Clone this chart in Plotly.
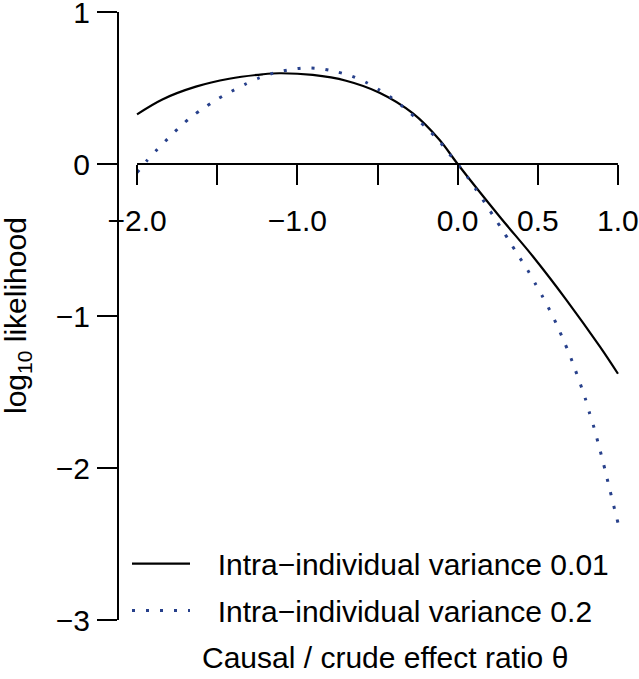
import plotly.graph_objects as go

# ---- data ----
theta_v001 = [-2.0, -1.842, -1.633, -1.425, -1.217, -1.1125, -0.904, -0.696, -0.4875,
              -0.279, -0.1125, 0.0, 0.2625, 0.471, 0.679, 0.8875, 1.0]
loglik_v001 = [0.327, 0.425, 0.509, 0.561, 0.590, 0.597, 0.586, 0.548, 0.469,
               0.333, 0.158, 0.0, -0.347, -0.610, -0.895, -1.202, -1.38]

theta_v02 = [-2.0, -1.939, -1.873, -1.804, -1.736, -1.663, -1.581, -1.500, -1.414,
             -1.327, -1.238, -1.146, -1.05, -0.952, -0.854, -0.756, -0.663, -0.573,
             -0.488, -0.406, -0.329, -0.256, -0.186, -0.117, -0.056, 0.0, 0.064,
             0.119, 0.173, 0.227, 0.279, 0.331, 0.383, 0.436, 0.483, 0.531, 0.577,
             0.619, 0.658, 0.696, 0.731, 0.764, 0.796, 0.823, 0.852, 0.877, 0.902,
             0.925, 0.948, 0.971, 1.0]
loglik_v02 = [-0.057, 0.022, 0.097, 0.171, 0.241, 0.309, 0.370, 0.426, 0.476,
              0.524, 0.566, 0.599, 0.620, 0.632, 0.627, 0.607, 0.579, 0.538,
              0.487, 0.430, 0.366, 0.298, 0.228, 0.154, 0.072, 0.0, -0.09,
              -0.175, -0.261, -0.349, -0.434, -0.522, -0.610, -0.697, -0.785, -0.875, -0.967,
              -1.059, -1.154, -1.248, -1.347, -1.443, -1.542, -1.640, -1.739, -1.838, -1.939,
              -2.037, -2.138, -2.237, -2.36]

series_names = ["Intra\u2212individual variance 0.01", "Intra\u2212individual variance 0.2"]

x_tickvals = [-2.0, -1.5, -1.0, -0.5, 0.0, 0.5, 1.0]
x_ticktext = ["\u22122.0", "", "\u22121.0", "", "0.0", "0.5", "1.0"]
y_tickvals = [-3, -2, -1, 0, 1]
y_ticktext = ["\u22123", "\u22122", "\u22121", "0", "1"]

FONT = "Liberation Sans, Arial, Helvetica, sans-serif"
BLUE = "#27408B"
NB = "\u00a0\u00a0\u2009"

fig = go.Figure()
fig.add_trace(go.Scatter(x=theta_v001, y=loglik_v001, mode="lines", name=NB + series_names[0],
                         legendgroup="a",
                         line=dict(color="black", width=2.2, shape="spline", smoothing=1.0)))
fig.add_trace(go.Scatter(x=theta_v02, y=loglik_v02, mode="lines", name=NB + series_names[1],
                         legendgroup="b",
                         line=dict(color=BLUE, width=3, dash="3px,11px", shape="spline", smoothing=0.8)))

ymin, ymax = -3.1316, 1.05263
xmin, xmax = -2.11875, 1.11875
xpos = (0 - ymin) / (ymax - ymin)

fig.update_layout(
    width=639, height=679,
    margin=dict(l=118, r=2, t=4, b=39, autoexpand=False),
    paper_bgcolor="white", plot_bgcolor="white",
    font=dict(family=FONT, size=30, color="black"),
    showlegend=True,
    legend=dict(x=9 / 519, y=0.161, xanchor="left", yanchor="top",
                bgcolor="rgba(0,0,0,0)", font=dict(size=30), itemwidth=58,
                tracegroupgap=5),
    xaxis=dict(range=[xmin, xmax], anchor="free", position=xpos, side="bottom",
               tickvals=x_tickvals, ticktext=x_ticktext, ticks="outside", ticklen=20,
               tickwidth=2, tickcolor="black", showline=False, showgrid=False,
               zeroline=False, tickfont=dict(size=30), ticklabelstandoff=10,
               ticklabeloverflow="allow", automargin=False),
    yaxis=dict(range=[ymin, ymax], tickvals=y_tickvals, ticktext=y_ticktext,
               ticks="outside", ticklen=20, tickwidth=2, tickcolor="black",
               showline=False, showgrid=False, zeroline=False,
               tickfont=dict(size=30), ticklabelstandoff=1, ticklabeloverflow="allow",
               automargin=False),
)

# axis lines spanning only first to last tick (R style)
fig.add_shape(type="line", xref="x", yref="y", x0=x_tickvals[0], x1=x_tickvals[-1], y0=0, y1=0,
              line=dict(color="black", width=2))
fig.add_shape(type="line", xref="paper", yref="y", x0=0, x1=0, y0=y_tickvals[0], y1=y_tickvals[-1],
              line=dict(color="black", width=2))

fig.add_annotation(text="log<sub>10</sub> likelihood", xref="paper", yref="y",
                   x=(17 - 118) / 519, y=-1, textangle=-90, showarrow=False,
                   xanchor="center", yanchor="middle", font=dict(size=30))
fig.add_annotation(text="Causal / crude effect ratio \u03b8", xref="paper", yref="paper",
                   x=(385 - 118) / 519, y=(640 - 657) / 636, showarrow=False,
                   xanchor="center", yanchor="middle", font=dict(size=30))

fig.write_html("out.html", config={"displayModeBar": False},
               post_script="document.body.style.margin='0px';")
